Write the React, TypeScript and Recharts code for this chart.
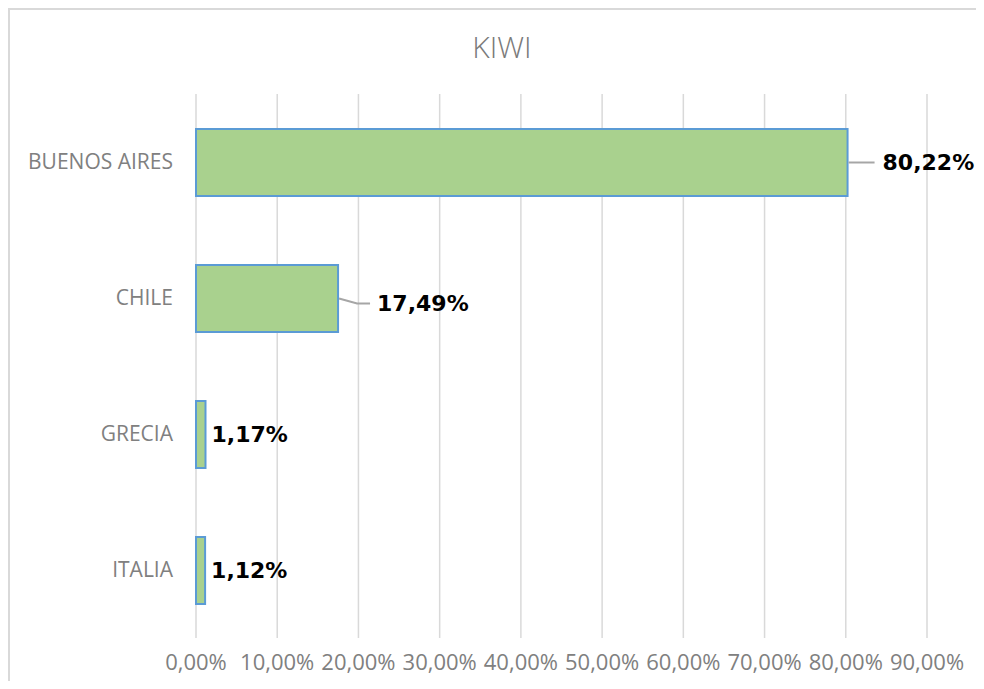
import React from "react";
import { Bar, BarChart, CartesianGrid, XAxis, YAxis } from "recharts";

const categories = ["BUENOS AIRES", "CHILE", "GRECIA", "ITALIA"];
const shares = [0.8022, 0.1749, 0.0117, 0.0112];
const xTicks = [0, 0.1, 0.2, 0.3, 0.4, 0.5, 0.6, 0.7, 0.8, 0.9];

const data = categories.map((name, i) => ({ name, value: shares[i] }));

// small vertical nudge Excel gave the CHILE label
const labelDrop: Record<number, number> = { 1: 5 };

const fmtPct = (v: number) => (v * 100).toFixed(2).replace(".", ",") + "%";

const renderLabel = (props: any) => {
  const { x, y, width, height, value, index } = props;
  const endX = Number(x) + Number(width);
  const cy = Number(y) + Number(height) / 2;
  const dy = labelDrop[index] || 0;
  const textStyle = {
    fontFamily: "'DejaVu Sans', Verdana, sans-serif",
    fontWeight: 700,
    fontSize: 22,
  };
  if (Number(width) < 40) {
    return (
      <text x={endX + 6} y={cy} dominantBaseline="central" fill="#000" style={textStyle}>
        {fmtPct(value)}
      </text>
    );
  }
  const points = dy
    ? `${endX + 1},${cy} ${endX + 19},${cy + dy} ${endX + 32},${cy + dy}`
    : `${endX + 1},${cy} ${endX + 27},${cy}`;
  const textX = dy ? endX + 39 : endX + 35;
  return (
    <g>
      <polyline points={points} fill="none" stroke="#a6a6a6" strokeWidth={2} />
      <text x={textX} y={cy + dy} dominantBaseline="central" fill="#000" style={textStyle}>
        {fmtPct(value)}
      </text>
    </g>
  );
};

export default function App() {
  return (
    <div
      style={{
        position: "relative",
        width: 976,
        height: 673,
        boxSizing: "border-box",
        borderTop: "2px solid #d9d9d9",
        borderLeft: "2px solid #d9d9d9",
        background: "#fff",
        fontFamily: "'Open Sans', sans-serif",
      }}
    >
      <div
        style={{
          position: "absolute",
          left: 492,
          top: 37,
          transform: "translate(-50%, -50%)",
          fontSize: 30,
          lineHeight: 1,
          color: "#7a7a7a",
          fontWeight: 300,
          whiteSpace: "nowrap",
        }}
      >
        KIWI
      </div>
      <BarChart
        width={974}
        height={671}
        data={data}
        layout="vertical"
        margin={{ top: 84, right: 57, bottom: 13, left: 0 }}
      >
        <CartesianGrid horizontal={false} stroke="#d9d9d9" strokeWidth={1.5} />
        <XAxis
          type="number"
          domain={[0, 0.9]}
          ticks={xTicks}
          tickFormatter={fmtPct}
          axisLine={false}
          tickLine={false}
          tickMargin={10}
          height={30}
          tick={{ fill: "#808080", fontSize: 22, fontFamily: "'Open Sans', sans-serif" }}
        />
        <YAxis
          type="category"
          dataKey="name"
          width={186}
          axisLine={false}
          tickLine={false}
          tickMargin={17}
          tick={{ fill: "#808080", fontSize: 21, fontFamily: "'Open Sans', sans-serif" }}
        />
        <Bar
          dataKey="value"
          barSize={67}
          fill="#a9d18e"
          stroke="#5b9bd5"
          strokeWidth={2}
          isAnimationActive={false}
          label={renderLabel}
        />
      </BarChart>
    </div>
  );
}
